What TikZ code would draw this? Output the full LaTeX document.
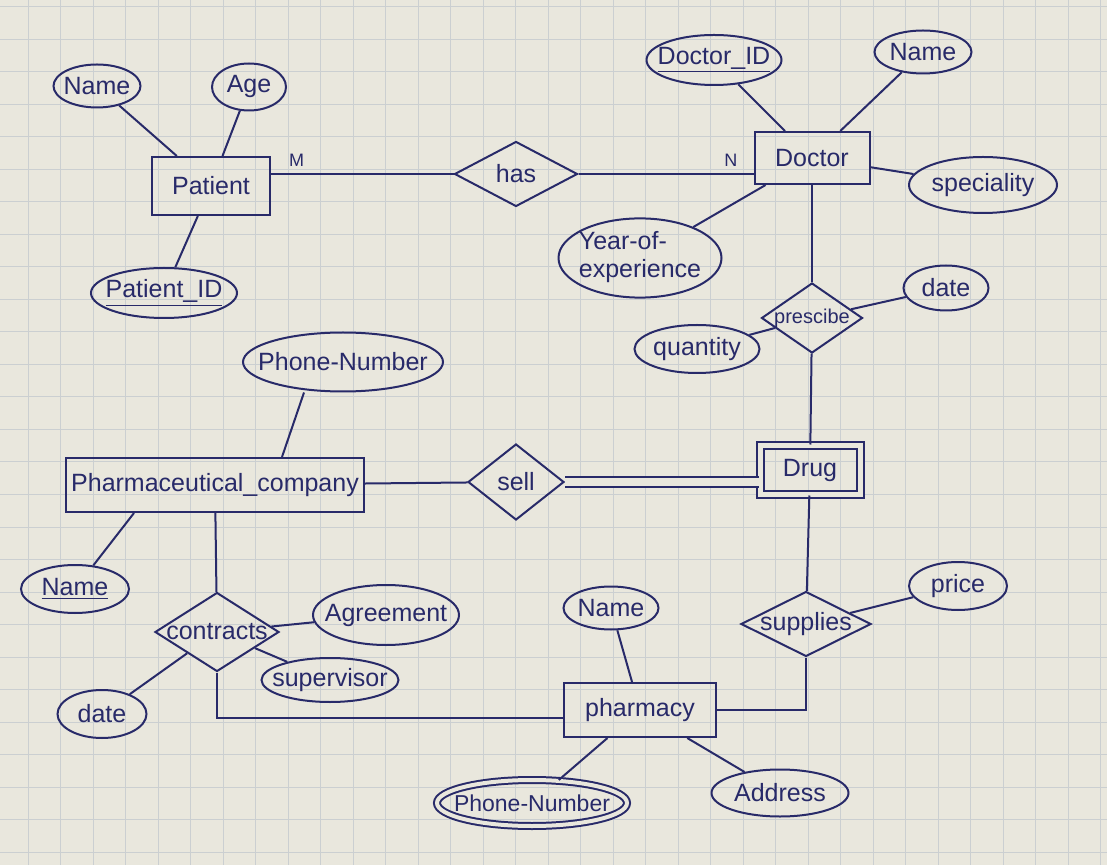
\documentclass[tikz,border=0pt]{standalone}
\usepackage{fontspec}
\setmainfont{Liberation Sans}
\usepackage{tikz}
\usetikzlibrary{shapes.geometric}
\definecolor{inkblue}{RGB}{40,42,105}
\definecolor{paper}{RGB}{233,231,221}
\definecolor{gridgray}{RGB}{203,207,209}
\newcommand{\lbl}[1]{\makebox[0pt]{#1}}

\begin{document}
\begin{tikzpicture}[
    x=0.5pt, y=-0.5pt,
    every node/.style={text=inkblue, font=\fontsize{12.5}{14}\selectfont},
    entity/.style={draw=inkblue, line width=1pt, inner sep=1pt},
    weak/.style={entity, double=paper, double distance=2.5pt},
    attr/.style={ellipse, draw=inkblue, line width=1pt, inner sep=0pt},
    multi/.style={attr, double=paper, double distance=2pt},
    rel/.style={diamond, draw=inkblue, line width=1pt, inner sep=0pt},
    link/.style={draw=inkblue, line width=1pt},
    card/.style={font=\fontsize{9}{10}\selectfont, above},
    gridline/.style={gridgray, line width=0.5pt},
  ]
    % Paper
    \useasboundingbox (0,0) rectangle (1107,865);
    \fill[paper] (0,0) rectangle (1107,865);
    \foreach \gx in {0,...,33}
      \draw[gridline] (28+32.5*\gx,0) -- ++(0,865);
    \foreach \gy in {0,...,26}
      \draw[gridline] (0,7+32.5*\gy) -- ++(1107,0);

    % Patient
    \node[entity, minimum width=59pt, minimum height=29pt] (patient) at (211,186) {Patient};
    \node[attr, minimum width=43.5pt, minimum height=21.5pt] (pname) at (97,86) {\lbl{Name}};
    \node[attr, minimum width=37pt, minimum height=23.5pt] (age) at (249,87) {\lbl{Age}};
    \node[attr, minimum width=73pt, minimum height=25pt] (pid) at (164,293) {\lbl{\underline{Patient\_ID}}};

    % has
    \node[rel, minimum width=61.5pt, minimum height=32.5pt] (has) at (516,174) {\lbl{has}};

    % Doctor
    \node[entity, minimum width=57.5pt, minimum height=26pt] (doctor) at (812,158) {Doctor};
    \node[attr, minimum width=67.5pt, minimum height=25pt] (did) at (714,60) {\lbl{\underline{Doctor\_ID}}};
    \node[attr, minimum width=48.5pt, minimum height=21.5pt] (dname) at (923,52) {\lbl{Name}};
    \node[attr, minimum width=74pt, minimum height=28pt] (spec) at (983,185) {\lbl{speciality}};
    \node[attr, minimum width=81.5pt, minimum height=39.5pt] (yoe) at (640,258)
      {\lbl{\begin{tabular}{@{}l@{}}Year-of-\\experience\end{tabular}}};

    % prescibe
    \node[rel, minimum width=50.5pt, minimum height=35pt] (presc) at (812,318)
      {\lbl{\fontsize{10}{11}\selectfont prescibe}};
    \node[attr, minimum width=42.5pt, minimum height=22.5pt] (pdate) at (946,288) {\lbl{date}};
    \node[attr, minimum width=62.5pt, minimum height=24pt] (qty) at (697,349) {\lbl{quantity}};

    % Drug
    \node[weak, minimum width=50pt, minimum height=24.5pt] (drug) at (810,470) {Drug};

    % Pharmaceutical company
    \node[entity, minimum width=149pt, minimum height=27pt] (company) at (215,485) {Pharmaceutical\_company};
    \node[attr, minimum width=100pt, minimum height=29.5pt] (cphone) at (343,362) {\lbl{Phone-Number}};
    \node[attr, minimum width=54pt, minimum height=24pt] (cname) at (75,589) {\lbl{\underline{Name}}};

    % sell
    \node[rel, minimum width=48pt, minimum height=38pt] (sell) at (516,482) {\lbl{sell}};

    % contracts
    \node[rel, minimum width=62pt, minimum height=39.5pt] (contracts) at (217,632) {\lbl{contracts}};
    \node[attr, minimum width=73pt, minimum height=30pt] (agree) at (386,615) {\lbl{Agreement}};
    \node[attr, minimum width=68.5pt, minimum height=22pt] (superv) at (330,680) {\lbl{supervisor}};
    \node[attr, minimum width=44.5pt, minimum height=24pt] (cdate) at (102,714) {\lbl{date}};

    % supplies
    \node[rel, minimum width=65pt, minimum height=32.5pt] (supplies) at (806,624) {\lbl{supplies}};
    \node[attr, minimum width=49pt, minimum height=24pt] (price) at (958,586) {\lbl{price}};

    % pharmacy
    \node[entity, minimum width=76pt, minimum height=27pt] (pharmacy) at (640,710) {pharmacy};
    \node[attr, minimum width=47.5pt, minimum height=21.5pt] (phname) at (611,608) {\lbl{Name}};
    \node[multi, minimum width=95pt, minimum height=23pt] (phphone) at (532,803)
      {\lbl{\fontsize{11.5}{13}\selectfont Phone-Number}};
    \node[attr, minimum width=68.5pt, minimum height=23.5pt] (address) at (780,793) {\lbl{Address}};

    % Relationship lines
    \draw[link] (patient.east |- has.west) -- node[card, pos=0.14] (mlbl) {M} (has.west);
    \draw[link] (has.east) -- node[card, pos=0.87] (nlbl) {N} (has.east -| doctor.west);
    \draw[link] (doctor) -- (presc);
    \draw[link] (presc) -- (drug);
    \draw[link] (company) -- (sell);
    \draw[link, double=paper, double distance=4pt] (sell.east) -- (sell.east -| drug.west);
    \draw[link] (company) -- (contracts);
    \draw[link] (contracts) |- ([yshift=-4pt]pharmacy.west);
    \draw[link] (drug) -- (supplies);
    \draw[link] (supplies) |- (pharmacy);

    % Attribute lines
    \draw[link] (pname) -- (patient);
    \draw[link] (age) -- (patient);
    \draw[link] (pid) -- (patient);
    \draw[link] (did) -- (doctor);
    \draw[link] (dname) -- (doctor);
    \draw[link] (spec) -- (doctor);
    \draw[link] (yoe) -- (doctor);
    \draw[link] (presc) -- (pdate);
    \draw[link] (presc) -- (qty);
    \draw[link] ([xshift=-19.5pt]cphone.south) -- ([xshift=33.5pt]company.north);
    \draw[link] (cname) -- ([xshift=-40.5pt]company.south);
    \draw[link] (contracts) -- (agree);
    \draw[link] (contracts) -- (superv);
    \draw[link] (contracts) -- (cdate);
    \draw[link] (supplies) -- (price);
    \draw[link] (phname) -- (pharmacy);
    \draw[link] (phphone) -- (pharmacy);
    \draw[link] (address) -- (pharmacy);
  \end{tikzpicture}
\end{document}
